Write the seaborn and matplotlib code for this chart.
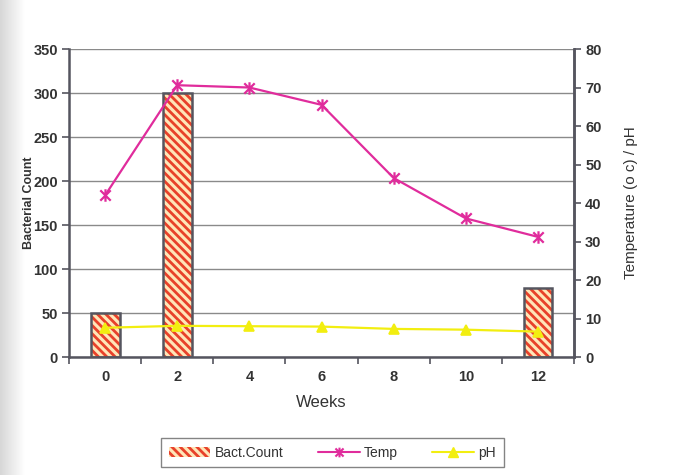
import numpy as np
import pandas as pd
import matplotlib
matplotlib.use("Agg")
import matplotlib.pyplot as plt
import seaborn as sns
from matplotlib.patches import Patch
from matplotlib.lines import Line2D
from matplotlib.path import Path

weeks = [0, 2, 4, 6, 8, 10, 12]
bact_count = [50, 300, np.nan, np.nan, np.nan, np.nan, 78]
temp = [42, 70.6, 70, 65.5, 46.5, 36, 31.2]
ph = [7.6, 8.1, 8.0, 7.9, 7.3, 7.1, 6.6]

df = pd.DataFrame({"Weeks": [str(w) for w in weeks],
                   "Bact.Count": bact_count, "Temp": temp, "pH": ph})

sns.set_theme(style="white")
plt.rcParams["font.family"] = ["Liberation Sans", "DejaVu Sans"]
plt.rcParams["hatch.linewidth"] = 2.0

AXIS_C = "#55555f"
GRID_C = "#8a8a8a"
TEMP_C = "#e02c9c"
PH_C = "#f2ee10"
TEXT_C = "#333333"

# star marker: an X crossed by a vertical stroke
STAR = Path([(-1, -1), (1, 1), (-1, 1), (1, -1), (0, -1.2), (0, 1.2)],
            [Path.MOVETO, Path.LINETO, Path.MOVETO, Path.LINETO,
             Path.MOVETO, Path.LINETO])

fig = plt.figure(figsize=(6.98, 4.75), dpi=100)
fig.patch.set_facecolor("white")

# soft shading along the left edge of the sheet
shade = fig.add_axes([0, 0, 0.035, 1], zorder=-10)
grad = np.linspace(0.84, 1.0, 200)[None, :]
shade.imshow(np.repeat(grad, 10, axis=0), cmap="gray", vmin=0, vmax=1,
             aspect="auto", extent=[0, 1, 0, 1])
shade.axis("off")

ax = fig.add_axes([0.0989, 0.2484, 0.7235, 0.6484])
ax.set_facecolor("white")

# hatched bars, then their dark outline
sns.barplot(data=df, x="Weeks", y="Bact.Count", ax=ax, width=0.4,
            color="#ffe6b8", edgecolor="#e8412a", linewidth=0,
            hatch="\\\\\\\\", saturation=1, zorder=2)
sns.barplot(data=df, x="Weeks", y="Bact.Count", ax=ax, width=0.4,
            fill=False, edgecolor=AXIS_C, linewidth=1.8, zorder=3)

ax.set_ylim(0, 350)
ax.set_yticks(np.arange(0, 351, 50))
ax.set_xlim(-0.5, 6.5)
ax.yaxis.grid(True, color=GRID_C, linewidth=1.0)
ax.set_axisbelow(True)
for side in ["left", "bottom", "top", "right"]:
    ax.spines[side].set_color(AXIS_C)
    ax.spines[side].set_linewidth(1.8)
ax.spines["top"].set_visible(False)

ax.tick_params(axis="y", direction="out", length=5, width=1.2, color=AXIS_C,
               labelsize=10.5, labelcolor=TEXT_C, pad=3, left=True)
ax.tick_params(axis="x", which="major", length=0, labelsize=10.5,
               labelcolor=TEXT_C, pad=9)
ax.set_xticks(np.arange(-0.5, 7, 1), minor=True)
ax.tick_params(axis="x", which="minor", direction="out", length=5, width=1.2,
               color=AXIS_C, bottom=True)
for lbl in ax.get_yticklabels() + ax.get_xticklabels():
    lbl.set_fontweight("bold")

ax.set_xlabel("Weeks", fontsize=12, color=TEXT_C, labelpad=8)
ax.set_ylabel("Bacterial Count", fontsize=9, fontweight="bold",
              color=TEXT_C, labelpad=-1)

ax2 = ax.twinx()
sns.pointplot(data=df, x="Weeks", y="Temp", ax=ax2, color=TEMP_C,
              marker=STAR, markersize=9, linewidth=1.6,
              markeredgewidth=1.6, zorder=4)
sns.pointplot(data=df, x="Weeks", y="pH", ax=ax2, color=PH_C,
              marker="^", markersize=7, linewidth=1.6, zorder=4)
ax2.set_ylim(0, 80)
ax2.set_yticks(np.arange(0, 81, 10))
ax2.set_xlim(-0.5, 6.5)
ax2.spines["right"].set_color(AXIS_C)
ax2.spines["right"].set_linewidth(1.8)
for side in ["left", "top", "bottom"]:
    ax2.spines[side].set_visible(False)
ax2.tick_params(axis="y", direction="out", length=5, width=1.2, color=AXIS_C,
                labelsize=10.5, labelcolor=TEXT_C, pad=3, right=True)
for lbl in ax2.get_yticklabels():
    lbl.set_fontweight("bold")
ax2.set_ylabel("Temperature (o c) / pH", fontsize=11, color=TEXT_C,
               labelpad=16)
ax2.set_xlabel("")

handles = [
    Patch(facecolor="#ffe6b8", edgecolor="#e8412a", hatch="\\\\\\\\",
          linewidth=0),
    Line2D([], [], color=TEMP_C, marker=STAR, markersize=7,
           markeredgewidth=1.5, linewidth=1.5),
    Line2D([], [], color=PH_C, marker="^", markersize=7, linewidth=1.5),
]
leg = fig.legend(handles, ["Bact.Count", "Temp", "pH"], ncol=3,
                 loc="center", bbox_to_anchor=(0.476, 0.047), frameon=True,
                 fontsize=10, handlelength=3.0, columnspacing=2.5,
                 handletextpad=0.3, borderpad=0.55, fancybox=False)
leg.get_frame().set_edgecolor("#666666")
leg.get_frame().set_linewidth(1.0)
for t in leg.get_texts():
    t.set_color(TEXT_C)

fig.savefig("out.png", dpi=100, facecolor=fig.get_facecolor())
